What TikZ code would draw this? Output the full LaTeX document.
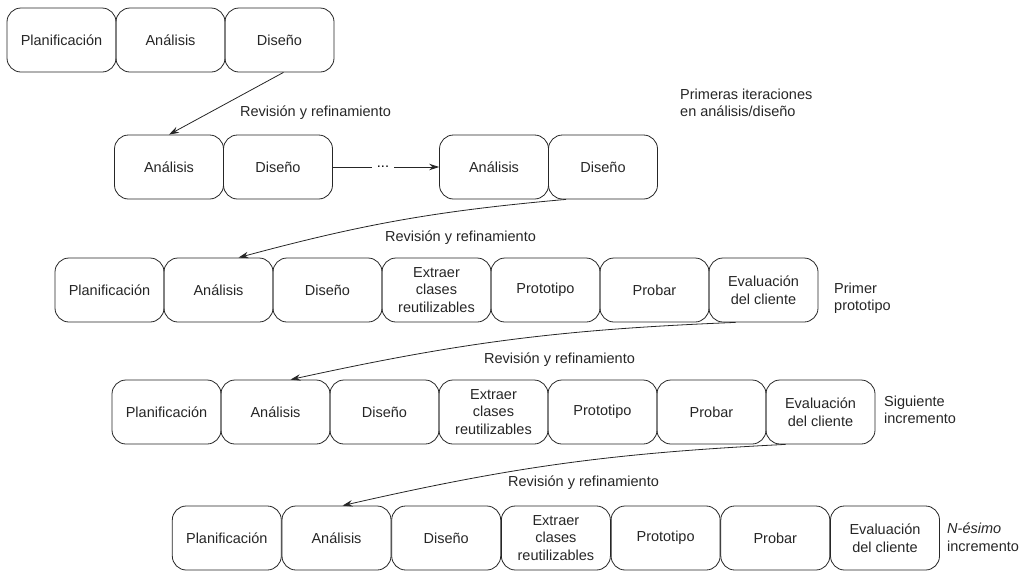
\documentclass[tikz,border=0pt]{standalone}
\usepackage{fontspec}
\setmainfont{Liberation Sans}
\usetikzlibrary{arrows.meta,calc}

\tikzset{
  stage/.style={draw=black!85, line width=0.8pt, rounded corners=14pt,
    minimum width=109pt, minimum height=64pt, inner sep=0pt,
    align=center, text=black!85, font=\fontsize{14.5}{17.5}\selectfont},
  note/.style={anchor=west, align=left, inner sep=0pt, text=black!85,
    font=\fontsize{14.5}{17.5}\selectfont},
  flow/.style={draw=black!85, line width=0.8pt,
    -{Stealth[length=10pt,width=6.5pt]}},
  plain/.style={draw=black!85, line width=0.8pt}
}

\begin{document}
\begin{tikzpicture}[x=1pt,y=-1pt]
\useasboundingbox (0,0) rectangle (1031,574);

% first pass: planning, analysis, design
\node[stage] (r1p) at (61.5,40)  {Planificación};
\node[stage] (r1a) at (170.5,40) {Análisis};
\node[stage] (r1d) at (279.5,40) {Diseño};

% early analysis/design iterations
\node[stage] (r2a)  at (169,167) {Análisis};
\node[stage] (r2d)  at (278,167) {Diseño};
\node[stage] (r2a2) at (494,167) {Análisis};
\node[stage] (r2d2) at (603,167) {Diseño};
\node[inner xsep=5pt, inner ysep=1pt, font=\fontsize{14.5}{17.5}\selectfont] (dots) at (383,167) {...};
\node[note] (iter) at (680,103) {Primeras iteraciones\\en análisis/diseño};

% first prototype
\node[stage] (r3p) at (109.5,290) {Planificación};
\node[stage] (r3a) at (218.5,290) {Análisis};
\node[stage] (r3d) at (327.5,290) {Diseño};
\node[stage] (r3x) at (436.5,290) {Extraer\\clases\\reutilizables};
\node[stage] (r3t) at (545.5,290) {Prototipo};
\node[stage] (r3b) at (654.5,290) {Probar};
\node[stage] (r3e) at (763.5,290) {Evaluación\\del cliente};
\node[note] (lab3) at (834,298) {Primer\\prototipo};

% next increment
\node[stage] (r4p) at (166.5,412) {Planificación};
\node[stage] (r4a) at (275.5,412) {Análisis};
\node[stage] (r4d) at (384.5,412) {Diseño};
\node[stage] (r4x) at (493.5,412) {Extraer\\clases\\reutilizables};
\node[stage] (r4t) at (602.5,412) {Prototipo};
\node[stage] (r4b) at (711.5,412) {Probar};
\node[stage] (r4e) at (820.5,412) {Evaluación\\del cliente};
\node[note] (lab4) at (884,410) {Siguiente\\incremento};

% N-th increment
\node[stage] (r5p) at (226.8,538) {Planificación};
\node[stage] (r5a) at (336.5,538) {Análisis};
\node[stage] (r5d) at (446.2,538) {Diseño};
\node[stage] (r5x) at (555.9,538) {Extraer\\clases\\reutilizables};
\node[stage] (r5t) at (665.6,538) {Prototipo};
\node[stage] (r5b) at (775.3,538) {Probar};
\node[stage] (r5e) at (885,538) {Evaluación\\del cliente};
\node[note] (lab5) at (947,537) {\textit{N-ésimo}\\incremento};

% review labels
\node[note] (rev1) at (240,113) {Revisión y refinamiento};
\node[note] (rev2) at (385,238) {Revisión y refinamiento};
\node[note] (rev3) at (484,360) {Revisión y refinamiento};
\node[note] (rev4) at (508,483) {Revisión y refinamiento};

% connectors
\draw[flow] ($(r1d.south)+(4,0)$) -- (r2a.north);
\draw[plain] (r2d.east) -- (dots.west);
\draw[flow] (dots.east) -- (r2a2.west);
\draw[flow] ($(r2d2.south)+(-37,0)$) to[bend right=5] ($(r3a.north)+(20,0)$);
\draw[flow] ($(r3e.south)+(-28,0)$) to[bend right=5] ($(r4a.north)+(15,0)$);
\draw[flow] ($(r4e.south)+(-35,0)$) to[bend right=5] ($(r5a.north)+(6,0)$);
\end{tikzpicture}
\end{document}
